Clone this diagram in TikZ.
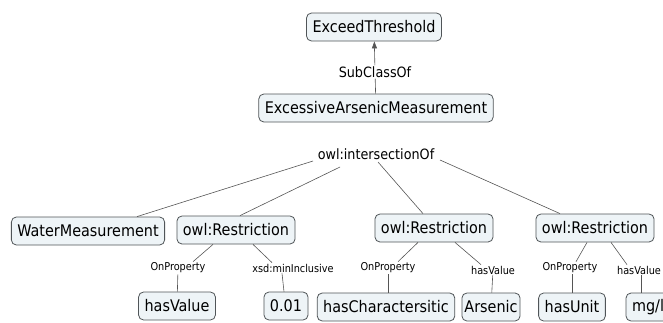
\documentclass[tikz,border=0pt]{standalone}
\usepackage{fontspec}
\setmainfont{DejaVu Sans Condensed}
\usetikzlibrary{arrows.meta}
\definecolor{boxfill}{HTML}{EEF4F7}
\definecolor{boxline}{HTML}{505558}
\definecolor{lnk}{HTML}{555555}
\begin{document}
\begin{tikzpicture}[x=1pt,y=-1pt,
  concept/.style={draw=boxline, line width=0.8pt, fill=boxfill, rounded corners=5pt,
    minimum height=28pt, inner xsep=6pt, inner ysep=0pt, font=\fontsize{16}{18}\selectfont, text=black},
  lbl/.style={inner sep=1pt, font=\fontsize{10.8}{12}\selectfont, text=black},
  biglbl/.style={inner sep=1pt, font=\fontsize{14.2}{16}\selectfont, text=black},
  link/.style={draw=lnk, line width=0.6pt}]
\useasboundingbox (0,0) rectangle (663,322);
\clip (0,0) rectangle (663,322);
\node[concept] (et) at (374,27) {ExceedThreshold};
\node[biglbl] (sub) at (375,72) {SubClassOf};
\node[concept] (eam) at (376,108) {ExcessiveArsenicMeasurement};
\node[biglbl] (int) at (376,154) {owl:intersectionOf};
\node[concept] (wm) at (88,231) {WaterMeasurement};
\node[concept] (r1) at (236,230) {owl:Restriction};
\node[concept] (r2) at (434,228) {owl:Restriction};
\node[concept] (r3) at (595,228) {owl:Restriction};
\node[lbl] (op1) at (178,268) {OnProperty};
\node[lbl] (mi1) at (293,268) {xsd:minInclusive};
\node[lbl] (op2) at (388,268) {OnProperty};
\node[lbl] (hv2) at (493,270) {hasValue};
\node[lbl] (op3) at (570,268) {OnProperty};
\node[lbl] (hv3) at (639,270) {hasValue};
\node[concept] (hv) at (177,306) {hasValue};
\node[concept] (v001) at (286,306) {0.01};
\node[concept] (hc) at (386,307) {hasCharactersitic};
\node[concept, inner xsep=2.5pt] (ars) at (491,307) {Arsenic};
\node[concept] (hu) at (572,307) {hasUnit};
\node[concept] (mgl) at (648,307) {mg/l};
\coordinate (i1) at (313,161);
\coordinate (i2) at (340,167);
\coordinate (i3) at (378,162);
\coordinate (i4) at (440,160);
\draw[link,-{Triangle[length=7pt,width=5pt]}] (sub) -- (et);
\draw[link] (sub) -- (eam);
\draw[link] (i1) -- (wm.north -| 137,0);
\draw[link] (i2) -- (r1.north -| 240,0);
\draw[link] (i3) -- (r2.north -| 423,0);
\draw[link] (i4) -- (r3.north -| 560,0);
\draw[link] (r1.south -| 213,0) -- (op1.north -| 193,0);
\draw[link] (op1) -- (hv);
\draw[link] (r1.south -| 253,0) -- (mi1.north -| 272,0);
\draw[link] (mi1.south -| 282,0) -- (v001.north -| 284,0);
\draw[link] (r2.south -| 418,0) -- (op2.north -| 398,0);
\draw[link] (op2) -- (hc.north -| 388,0);
\draw[link] (r2.south -| 455,0) -- (hv2.north -| 481,0);
\draw[link] (hv2) -- (ars);
\draw[link] (r3.south -| 587,0) -- (op3.north -| 576,0);
\draw[link] (op3.south -| 572,0) -- (hu);
\draw[link] (r3.south -| 611,0) -- (hv3.north -| 627,0);
\draw[link] (hv3.south -| 641,0) -- (mgl.north -| 641,0);
\end{tikzpicture}
\end{document}
